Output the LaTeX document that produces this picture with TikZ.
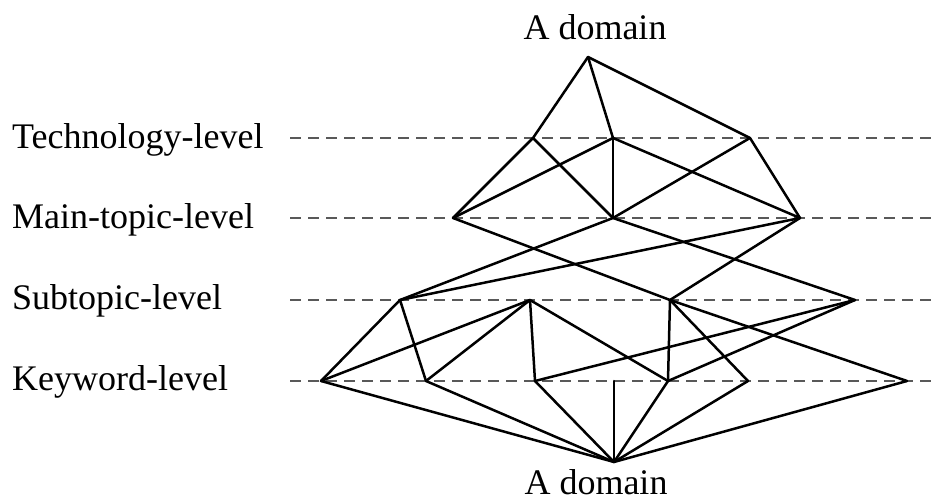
\documentclass[tikz,border=0pt]{standalone}
\usepackage{fontspec}
\setmainfont{Liberation Serif}
\begin{document}
\begin{tikzpicture}[x=1pt,y=-1pt,
  edge/.style={black,line width=2.5pt,line join=round,line cap=round},
  levelline/.style={draw=black!65,line width=2.6pt,dash pattern=on 11pt off 7pt},
  lvltext/.style={anchor=base west,inner sep=0pt,font=\fontsize{36}{40}\selectfont},
  domtext/.style={anchor=base,inner sep=0pt,font=\fontsize{36}{40}\selectfont}]
\useasboundingbox (0,0) rectangle (932,502);
% level labels
\node[lvltext] (lt) at (12,149) {Technology-level};
\node[lvltext] (lm) at (12,229) {Main-topic-level};
\node[lvltext] (ls) at (12,310) {Subtopic-level};
\node[lvltext] (lk) at (12,391) {Keyword-level};
\node[domtext] (dtop) at (595,40) {A domain};
\node[domtext] (dbot) at (596,494) {A domain};
% dashed level lines
\coordinate (dl1) at (290,138); \coordinate (dr1) at (932,138);
\coordinate (dl2) at (290,218); \coordinate (dr2) at (932,218);
\coordinate (dl3) at (290,300); \coordinate (dr3) at (932,300);
\coordinate (dl4) at (290,381); \coordinate (dr4) at (932,381);
\foreach \i in {1,2,3,4} \draw[levelline] (dl\i) -- (dr\i);
% vertices
\coordinate (T0) at (588,57);
\coordinate (T1) at (533,138);
\coordinate (T2) at (613,138);
\coordinate (T3) at (750,138);
\coordinate (M1) at (453,218);
\coordinate (M2) at (613,218);
\coordinate (M3) at (800,218);
\coordinate (S1) at (400,300);
\coordinate (S2) at (530,300);
\coordinate (S3) at (670,300);
\coordinate (S4) at (855,300);
\coordinate (K1) at (321,381);
\coordinate (K2) at (426,381);
\coordinate (K3) at (535,381);
\coordinate (K0) at (614,381);
\coordinate (K4) at (668,381);
\coordinate (K5) at (748,381);
\coordinate (K6) at (907,381);
\coordinate (B) at (614,462);
% edges
\draw[edge] (T0) -- (T1);
\draw[edge] (T0) -- (T2);
\draw[edge] (T0) -- (T3);
\draw[edge] (T1) -- (M1);
\draw[edge] (T1) -- (M2);
\draw[edge] (T2) -- (M1);
\draw[edge] (T2) -- (M2);
\draw[edge] (T2) -- (M3);
\draw[edge] (T3) -- (M2);
\draw[edge] (T3) -- (M3);
\draw[edge] (M1) -- (S3);
\draw[edge] (M2) -- (S1);
\draw[edge] (M2) -- (S4);
\draw[edge] (M3) -- (S1);
\draw[edge] (M3) -- (S3);
\draw[edge] (S1) -- (K1);
\draw[edge] (S1) -- (K2);
\draw[edge] (S2) -- (K1);
\draw[edge] (S2) -- (K2);
\draw[edge] (S2) -- (K3);
\draw[edge] (S2) -- (K4);
\draw[edge] (S3) -- (K4);
\draw[edge] (S3) -- (K5);
\draw[edge] (S3) -- (K6);
\draw[edge] (S4) -- (K3);
\draw[edge] (S4) -- (K4);
\draw[edge] (K1) -- (B);
\draw[edge] (K2) -- (B);
\draw[edge] (K3) -- (B);
\draw[edge] (K0) -- (B);
\draw[edge] (K4) -- (B);
\draw[edge] (K5) -- (B);
\draw[edge] (K6) -- (B);
\end{tikzpicture}
\end{document}
